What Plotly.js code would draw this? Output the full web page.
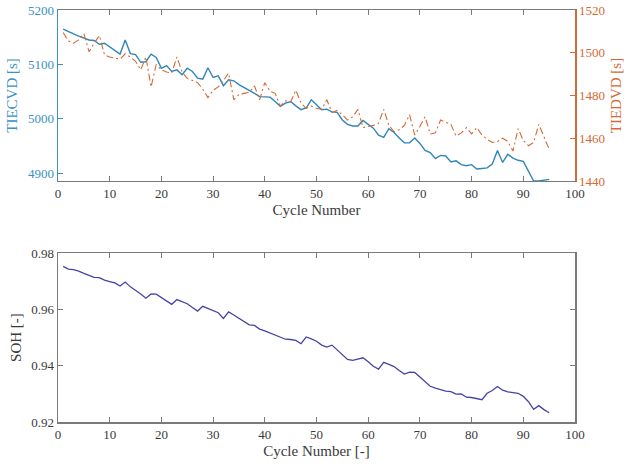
<!DOCTYPE html>
<html>
<head>
<meta charset="utf-8">
<script src="https://cdn.plot.ly/plotly-3.0.1.min.js"></script>
<style>html,body{margin:0;padding:0;background:#fff;}#chart{width:629px;height:468px;}</style>
</head>
<body>
<div id="chart"></div>
<script>
const cycles = Array.from({length: 95}, (_, i) => i + 1);

const tiecvd = [
5165,5160,5156,5152,5148,5145,5144,5137,5139,5132,
5125,5119,5145,5120,5118,5104,5105,5119,5113,5093,
5098,5087,5090,5081,5093,5087,5075,5073,5094,5076,
5079,5061,5072,5070,5063,5058,5052,5047,5041,5041,
5040,5032,5023,5029,5032,5024,5017,5020,5035,5026,
5017,5018,5013,5012,4998,4990,4987,4987,4997,4990,
4983,4970,4966,4982,4975,4965,4956,4956,4965,4955,
4942,4938,4927,4933,4932,4921,4923,4916,4914,4916,
4908,4909,4910,4917,4942,4920,4935,4928,4924,4922,
4903,4886,4886,4888,4889];

const tiedvd = [
1509.5,1505.5,1504.5,1506,1509,1500.5,1504.5,1508,1499,1498,
1497.5,1497,1499.5,1498,1496,1492,1498,1484,1494.5,1492,
1491,1490.5,1498,1491,1488,1487,1486,1483,1479,1482.5,
1484,1487,1490.5,1478,1480.5,1481,1481.5,1484.5,1478,1486,
1482,1481,1475,1477.5,1477,1482.5,1476.5,1474,1475,1474,
1473.5,1478,1472,1473,1471,1468.5,1470,1473.5,1465,1465.5,
1466,1467,1473.5,1466,1463,1464,1466,1471,1461.5,1465.5,
1470,1462,1462.5,1468.5,1467.5,1466.5,1461,1462.5,1465,1462,
1465,1461.5,1459.5,1458,1458.5,1460,1458.5,1454,1464.5,1459,
1456.5,1458,1466.5,1461,1454.8];

const soh = [
0.9753,0.9743,0.9741,0.9736,0.9728,0.9721,0.9714,0.9713,0.9704,0.9699,
0.9694,0.9683,0.9697,0.9680,0.9669,0.9655,0.9640,0.9655,0.9654,0.9642,
0.9628,0.9618,0.9635,0.9627,0.9620,0.9607,0.9594,0.9611,0.9604,0.9597,
0.9588,0.9568,0.9591,0.9580,0.9569,0.9555,0.9545,0.9543,0.9530,0.9524,
0.9517,0.9508,0.9503,0.9494,0.9493,0.9490,0.9478,0.9502,0.9495,0.9487,
0.9473,0.9466,0.9473,0.9455,0.9440,0.9422,0.9419,0.9423,0.9428,0.9414,
0.9398,0.9388,0.9412,0.9405,0.9397,0.9383,0.9370,0.9377,0.9376,0.9360,
0.9343,0.9327,0.9320,0.9315,0.9310,0.9308,0.9299,0.9300,0.9288,0.9287,
0.9284,0.9279,0.9302,0.9312,0.9326,0.9313,0.9307,0.9305,0.9302,0.9291,
0.9272,0.9245,0.9258,0.9244,0.9233];

const xTicks = [0,10,20,30,40,50,60,70,80,90,100];
const topXTitle = 'Cycle Number';
const bottomXTitle = 'Cycle Number [-]';
const leftTitle = 'TIECVD [s]';
const rightTitle = 'TIEDVD [s]';
const sohTitle = 'SOH [-]';

const BLUE = '#3a92c4';
const ORANGE = '#d46a35';
const NAVY = '#4444a4';
const GRAY = '#7a7a7a';
const TXT = '#3a3a3a';
const FONT = 'Liberation Serif, Times New Roman, serif';

const traces = [
  {x: cycles, y: tiecvd, type: 'scatter', mode: 'lines', xaxis: 'x', yaxis: 'y',
   line: {color: '#2f86b8', width: 1.4}, showlegend: false},
  {x: cycles, y: tiedvd, type: 'scatter', mode: 'lines', xaxis: 'x', yaxis: 'y2',
   line: {color: ORANGE, width: 1.1, dash: '7px,3px,2px,3px'}, showlegend: false},
  {x: cycles, y: soh, type: 'scatter', mode: 'lines', xaxis: 'x2', yaxis: 'y3',
   line: {color: NAVY, width: 1.3}, showlegend: false}
];

const xCommon = {
  range: [0, 100], tickvals: xTicks, ticks: 'inside', ticklen: 5, tickcolor: GRAY,
  showline: true, linecolor: GRAY, linewidth: 1.5, mirror: 'ticks',
  showgrid: false, zeroline: false, tickfont: {family: FONT, size: 13, color: TXT}
};

const layout = {
  width: 629, height: 468,
  margin: {l: 58, r: 54, t: 10, b: 46},
  paper_bgcolor: '#fff', plot_bgcolor: '#fff',
  font: {family: FONT, color: TXT},
  xaxis: Object.assign({}, xCommon, {domain: [0, 1], anchor: 'y',
    title: {text: topXTitle, font: {family: FONT, size: 15, color: TXT}, standoff: 4}}),
  yaxis: {domain: [0.585, 1], range: [4886, 5200], tickvals: [4900, 5000, 5100, 5200],
    ticks: 'inside', ticklen: 5, tickcolor: BLUE, showline: true, linecolor: BLUE, linewidth: 1.5,
    showgrid: false, zeroline: false, tickfont: {family: FONT, size: 13, color: BLUE},
    title: {text: leftTitle, font: {family: FONT, size: 15, color: BLUE}, standoff: 6}},
  yaxis2: {overlaying: 'y', side: 'right', anchor: 'x', range: [1440, 1520],
    tickvals: [1440, 1460, 1480, 1500, 1520],
    ticks: 'inside', ticklen: 5, tickcolor: ORANGE, showline: true, linecolor: ORANGE, linewidth: 1.5,
    showgrid: false, zeroline: false, tickfont: {family: FONT, size: 13, color: ORANGE},
    title: {text: rightTitle, font: {family: FONT, size: 15, color: ORANGE}, standoff: 6}},
  xaxis2: Object.assign({}, xCommon, {domain: [0, 1], anchor: 'y3',
    title: {text: bottomXTitle, font: {family: FONT, size: 15, color: TXT}, standoff: 4}}),
  yaxis3: {domain: [0, 0.41], anchor: 'x2', range: [0.92, 0.98], tickvals: [0.92, 0.94, 0.96, 0.98],
    tickformat: '.2f', ticks: 'inside', ticklen: 5, tickcolor: GRAY,
    showline: true, linecolor: GRAY, linewidth: 1.5, mirror: 'ticks',
    showgrid: false, zeroline: false, tickfont: {family: FONT, size: 13, color: TXT},
    title: {text: sohTitle, font: {family: FONT, size: 15, color: TXT}, standoff: 6}}
};

Plotly.newPlot('chart', traces, layout, {displayModeBar: false, staticPlot: true});
</script>
</body>
</html>
